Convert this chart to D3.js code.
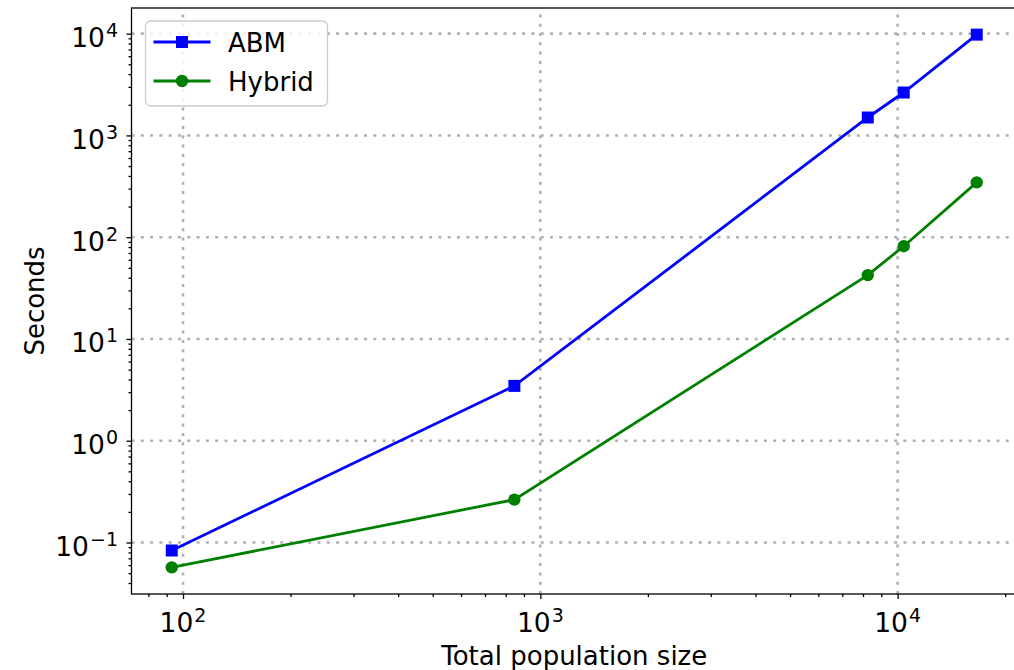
<!DOCTYPE html>
<html>
<head>
<meta charset="utf-8">
<script src="https://cdn.jsdelivr.net/npm/d3@7"></script>
<style>
  body { margin: 0; background: #fff; }
  svg { display: block; font-family: "DejaVu Sans", sans-serif; }
  .axis path { display: none; }
  .axis line { stroke: #000; stroke-width: 1.3; }
</style>
</head>
<body>
<svg id="chart" width="1014" height="670"></svg>
<script>
// population sizes and run times (seconds)
var population = [93, 846, 8250, 10400, 16650];
var abmSeconds = [0.0835, 3.46, 1500, 2640, 9780];
var hybridSeconds = [0.057, 0.264, 42.4, 81.6, 346];
var xMajor = [2, 3, 4];
var yMajor = [-1, 0, 1, 2, 3, 4];

var series = [
  { name: "ABM", values: abmSeconds, color: "#0000ff", marker: "square" },
  { name: "Hybrid", values: hybridSeconds, color: "#008000", marker: "circle" }
];

var margin = { top: 8, left: 131.5, bottom: 594, right: 1017 };

// matplotlib style 5% margin in log space
function logPad(vals) {
  var lo = Math.log10(d3.min(vals)), hi = Math.log10(d3.max(vals));
  var pad = (hi - lo) * 0.05;
  return [Math.pow(10, lo - pad), Math.pow(10, hi + pad)];
}

var x = d3.scaleLog().domain(logPad(population)).range([margin.left, margin.right]);
var y = d3.scaleLog().domain(logPad(abmSeconds.concat(hybridSeconds))).range([margin.bottom, margin.top]);

function minors(scale) {
  var d = scale.domain(), out = [];
  for (var e = Math.floor(Math.log10(d[0])); e <= Math.ceil(Math.log10(d[1])); e++) {
    for (var m = 2; m < 10; m++) {
      var v = m * Math.pow(10, e);
      if (v >= d[0] && v <= d[1]) out.push(v);
    }
  }
  return out;
}

var svg = d3.select("#chart");
svg.append("rect").attr("width", 1014).attr("height", 670).attr("fill", "#fff");

// grid
var grid = svg.append("g")
  .attr("stroke", "#b0b0b0")
  .attr("stroke-width", 2.6)
  .attr("stroke-dasharray", "3,6.3");

grid.selectAll(".vg").data(xMajor).enter().append("line")
  .attr("x1", d => x(Math.pow(10, d))).attr("x2", d => x(Math.pow(10, d)))
  .attr("y1", margin.bottom).attr("y2", margin.top);

grid.selectAll(".hg").data(yMajor).enter().append("line")
  .attr("y1", d => y(Math.pow(10, d))).attr("y2", d => y(Math.pow(10, d)))
  .attr("x1", margin.left).attr("x2", margin.right);

// lines and markers
var line = d3.line()
  .x((d, i) => x(population[i]))
  .y(d => y(d));

series.forEach(function(s) {
  var g = svg.append("g");
  g.append("path")
    .attr("d", line(s.values))
    .attr("fill", "none")
    .attr("stroke", s.color)
    .attr("stroke-width", 2.8);

  if (s.marker == "square") {
    g.selectAll("rect").data(s.values).enter().append("rect")
      .attr("x", (d, i) => x(population[i]) - 6)
      .attr("y", d => y(d) - 6)
      .attr("width", 12).attr("height", 12)
      .attr("fill", s.color);
  } else {
    g.selectAll("circle").data(s.values).enter().append("circle")
      .attr("cx", (d, i) => x(population[i]))
      .attr("cy", d => y(d))
      .attr("r", 6.2)
      .attr("fill", s.color);
  }
});

// axes
svg.append("g").attr("class", "axis")
  .attr("transform", "translate(0," + margin.bottom + ")")
  .call(d3.axisBottom(x).tickValues(xMajor.map(d => Math.pow(10, d))).tickSize(5).tickFormat(""));
svg.append("g").attr("class", "axis")
  .attr("transform", "translate(0," + margin.bottom + ")")
  .call(d3.axisBottom(x).tickValues(minors(x)).tickSize(3).tickFormat(""));
svg.append("g").attr("class", "axis")
  .attr("transform", "translate(" + margin.left + ",0)")
  .call(d3.axisLeft(y).tickValues(yMajor.map(d => Math.pow(10, d))).tickSize(5).tickFormat(""));
svg.append("g").attr("class", "axis")
  .attr("transform", "translate(" + margin.left + ",0)")
  .call(d3.axisLeft(y).tickValues(minors(y)).tickSize(3).tickFormat(""));

// spines
svg.append("rect")
  .attr("x", margin.left).attr("y", margin.top)
  .attr("width", margin.right - margin.left).attr("height", margin.bottom - margin.top)
  .attr("fill", "none").attr("stroke", "#000").attr("stroke-width", 1.3);

function powLabel(sel, e) {
  sel.append("tspan").text("10");
  sel.append("tspan")
    .attr("dy", -10)
    .attr("dx", 1)
    .style("font-size", "19px")
    .text(e < 0 ? "\u2212" + (-e) : e);
}

svg.selectAll(".xl").data(xMajor).enter().append("text")
  .attr("x", d => x(Math.pow(10, d)))
  .attr("y", 632)
  .attr("text-anchor", "middle")
  .style("font-size", "26.5px")
  .each(function(d) { powLabel(d3.select(this), d); });

svg.selectAll(".yl").data(yMajor).enter().append("text")
  .attr("x", 118)
  .attr("y", d => y(Math.pow(10, d)) + 13.5)
  .attr("text-anchor", "end")
  .style("font-size", "26.5px")
  .each(function(d) { powLabel(d3.select(this), d); });

svg.append("text")
  .attr("x", (margin.left + margin.right) / 2)
  .attr("y", 665)
  .attr("text-anchor", "middle")
  .style("font-size", "26px")
  .text("Total population size");

svg.append("text")
  .attr("transform", "translate(44," + ((margin.top + margin.bottom) / 2) + ") rotate(-90)")
  .attr("text-anchor", "middle")
  .style("font-size", "26px")
  .text("Seconds");

// legend
var legend = svg.append("g").attr("transform", "translate(145.5,21)");
legend.append("rect")
  .attr("width", 182).attr("height", 85).attr("rx", 5)
  .attr("fill", "#fff").attr("fill-opacity", 0.8)
  .attr("stroke", "#cccccc").attr("stroke-width", 1.3);

var item = legend.selectAll(".item").data(series).enter().append("g")
  .attr("transform", (d, i) => "translate(0," + (21 + i * 39) + ")");

item.append("line")
  .attr("x1", 8).attr("x2", 65)
  .attr("stroke", d => d.color).attr("stroke-width", 2.8);

item.each(function(d) {
  var g = d3.select(this);
  if (d.marker == "square") {
    g.append("rect").attr("x", 30.5).attr("y", -6).attr("width", 12).attr("height", 12).attr("fill", d.color);
  } else {
    g.append("circle").attr("cx", 36.5).attr("r", 6.2).attr("fill", d.color);
  }
});

item.append("text")
  .attr("x", 82.5)
  .attr("y", 9.5)
  .style("font-size", "26px")
  .text(d => d.name);
</script>
</body>
</html>
